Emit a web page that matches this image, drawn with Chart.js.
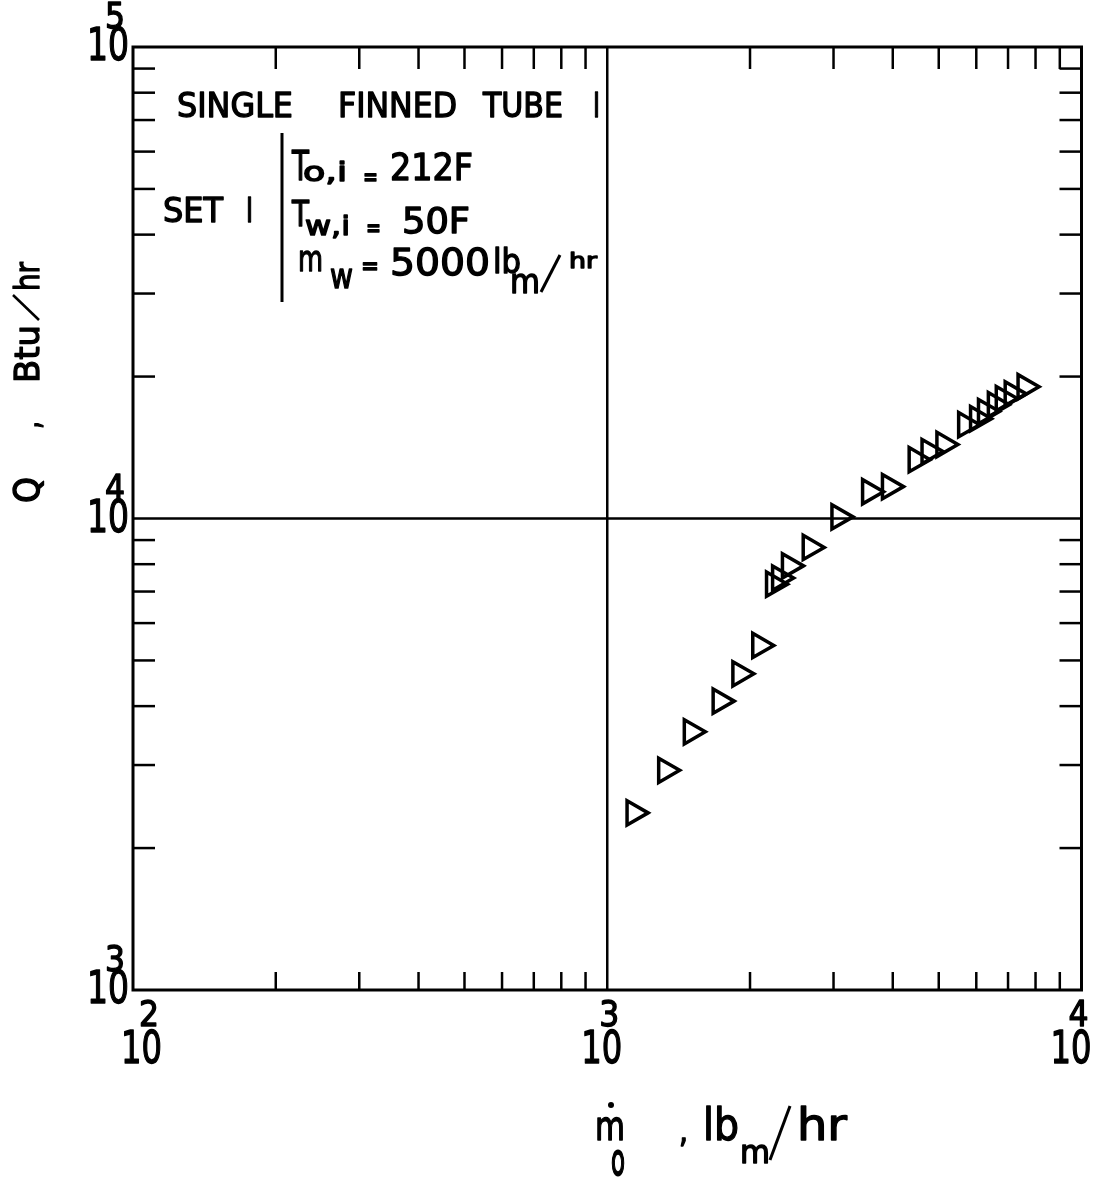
<!DOCTYPE html>
<html><head><meta charset="utf-8">
<script src="https://cdn.jsdelivr.net/npm/chart.js@4/dist/chart.umd.min.js"></script>
<style>html,body{margin:0;padding:0;background:#fff;overflow:hidden}</style>
</head><body>
<canvas id="c" width="1099" height="1179"></canvas>
<script>
// ---- data ----
const flowRate = [1139,1328,1504,1730,1904,2097,2242,2309,2422,2679,3080,3574,3936,4481,4770,5127,5698,6037,6274,6582,6840,7143,7603];
const heatRate = [2375,2924,3529,4099,4684,5381,7256,7477,7935,8682,10080,11396,11685,13327,13864,14355,15812,16283,16855,17437,17962,18380,19030];
const xDecades = [100, 1000, 10000];
const yDecades = [1000, 10000, 100000];
const xExponents = ['2', '3', '4'];
const yExponents = ['3', '4', '5'];
const minorSteps = [2, 3, 4, 5, 6, 7, 8, 9];
const xGridValues = [1000];
const yGridValues = [10000];

const FONT = '"DejaVu Sans"';
function txt(ctx, s, x, y, size, w, vscale, weight) {
  ctx.save();
  ctx.font = size + 'px ' + FONT;
  ctx.textAlign = 'left';
  ctx.textBaseline = 'alphabetic';
  const m = ctx.measureText(s).width;
  ctx.translate(x, y);
  ctx.scale(w ? w / m : 1, vscale || 1);
  ctx.lineJoin = 'round';
  ctx.lineWidth = weight === undefined ? 1.4 : weight;
  ctx.fillText(s, 0, 0);
  if (ctx.lineWidth > 0) ctx.strokeText(s, 0, 0);
  ctx.restore();
}
function line(ctx, x1, y1, x2, y2, lw) {
  ctx.beginPath(); ctx.lineWidth = lw; ctx.moveTo(x1, y1); ctx.lineTo(x2, y2); ctx.stroke();
}

const framePlugin = {
  id: 'frame',
  afterDraw(chart) {
    const ctx = chart.ctx, a = chart.chartArea, xs = chart.scales.x, ys = chart.scales.y;
    ctx.save();
    ctx.strokeStyle = '#000'; ctx.fillStyle = '#000'; ctx.lineCap = 'butt';
    // frame
    ctx.lineWidth = 3;
    ctx.strokeRect(a.left, a.top, a.right - a.left, a.bottom - a.top);
    // grid lines
    xGridValues.forEach(v => { const p = xs.getPixelForValue(v); line(ctx, p, a.top, p, a.bottom, 2.5); });
    yGridValues.forEach(v => { const p = ys.getPixelForValue(v); line(ctx, a.left, p, a.right, p, 2.5); });
    // minor ticks, inward on all four sides
    xDecades.slice(0, -1).forEach(d => minorSteps.forEach(m => {
      const p = xs.getPixelForValue(d * m);
      line(ctx, p, a.bottom, p, a.bottom - 18, 2.5);
      line(ctx, p, a.top, p, a.top + 22, 2.5);
    }));
    yDecades.slice(0, -1).forEach(d => minorSteps.forEach(m => {
      const p = ys.getPixelForValue(d * m);
      line(ctx, a.left, p, a.left + 22, p, 2.5);
      line(ctx, a.right, p, a.right - 22, p, 2.5);
    }));
    // x tick labels 10^n
    const xShift = [8, -6, -11];
    xDecades.forEach((v, i) => {
      const c = xs.getPixelForValue(v) + xShift[i];
      txt(ctx, '10', c - 20, a.bottom + 73, 45, 41);
      txt(ctx, xExponents[i], c - 2, a.bottom + 36, 36, 20);
    });
    // y tick labels 10^n
    yDecades.forEach((v, i) => {
      const p = ys.getPixelForValue(v);
      txt(ctx, '10', 87, p + 13, 45, 42);
      txt(ctx, yExponents[i], 105, p - 19, 36, 20);
    });
    // y axis title (rotated)
    ctx.save();
    ctx.translate(39, 503);
    ctx.rotate(-Math.PI / 2);
    txt(ctx, 'Q', 0, 0, 35, 26);
    txt(ctx, ',', 74, 0, 34, 8);
    txt(ctx, 'Btu', 120, 0, 34, 58);
    line(ctx, 183, 0, 208, -26, 2.5);
    txt(ctx, 'hr', 212, 0, 34, 29);
    ctx.restore();
    // x axis title
    txt(ctx, 'm', 595, 1140, 40, 30);
    ctx.beginPath(); ctx.arc(611, 1105, 3, 0, Math.PI * 2); ctx.fill();
    txt(ctx, 'o', 611, 1175, 32, 14, 1.4);
    txt(ctx, ',', 679, 1142, 34, 9);
    txt(ctx, 'lb', 703, 1140, 44, 36);
    txt(ctx, 'm', 740, 1163, 32, 30);
    line(ctx, 770, 1160, 790, 1106, 3);
    txt(ctx, 'hr', 797, 1140, 44, 50);
    // annotation block
    txt(ctx, 'SINGLE', 177, 117, 34, 116);
    txt(ctx, 'FINNED', 338, 117, 34, 119);
    txt(ctx, 'TUBE', 483, 117, 34, 80);
    txt(ctx, 'I', 593, 117, 34, 7);
    txt(ctx, 'SET', 163, 222, 33, 60);
    txt(ctx, 'I', 246, 222, 33, 7);
    line(ctx, 282, 133, 282, 302, 3);
    txt(ctx, 'T', 292, 180, 40, 17);
    txt(ctx, 'o,i', 303, 181, 26, 44);
    txt(ctx, '=', 363, 186, 26, 15);
    txt(ctx, '212F', 390, 180, 37, 83);
    txt(ctx, 'T', 292, 226, 36, 17);
    txt(ctx, 'w,i', 305, 235, 26, 45);
    txt(ctx, '=', 366, 237, 26, 15);
    txt(ctx, '50F', 402, 233, 35, 68);
    txt(ctx, 'm', 298, 271, 36, 25);
    txt(ctx, 'w', 330, 288, 34, 23);
    txt(ctx, '=', 361, 275, 26, 18);
    txt(ctx, '5000', 390, 275, 38, 100);
    txt(ctx, 'lb', 493, 273, 34, 28);
    txt(ctx, 'm', 510, 293, 34, 30);
    line(ctx, 541, 292, 560, 255, 3);
    txt(ctx, 'hr', 569, 268, 22, 28);
    ctx.restore();
  }
};

new Chart(document.getElementById('c'), {
  type: 'scatter',
  data: {
    datasets: [{
      data: flowRate.map((x, i) => ({ x: x, y: heatRate[i] })),
      pointStyle: 'triangle',
      rotation: 90,
      radius: 14,
      borderColor: '#000',
      backgroundColor: 'rgba(0,0,0,0)',
      borderWidth: 3.5
    }]
  },
  options: {
    responsive: false,
    animation: false,
    devicePixelRatio: 1,
    layout: { padding: { left: 133, top: 47, right: 12, bottom: 189 } },
    plugins: { legend: { display: false }, tooltip: { enabled: false } },
    scales: {
      x: { type: 'logarithmic', min: 100, max: 10000,
           ticks: { display: false }, grid: { display: false }, border: { display: false },
           afterFit: s => { s.height = 0; } },
      y: { type: 'logarithmic', min: 1000, max: 100000,
           ticks: { display: false }, grid: { display: false }, border: { display: false },
           afterFit: s => { s.width = 0; } }
    }
  },
  plugins: [framePlugin]
});
</script>
</body></html>
